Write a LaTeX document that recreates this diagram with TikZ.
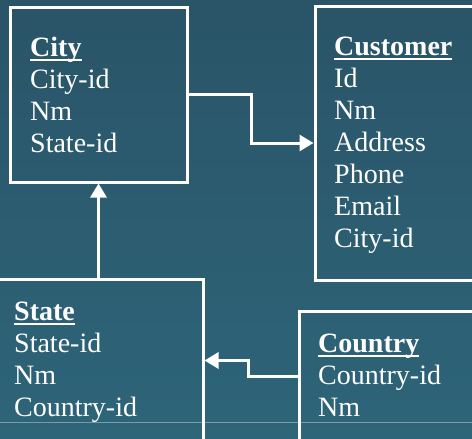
\documentclass[tikz,border=0pt]{standalone}
\usepackage{fontspec}
\setmainfont{Liberation Serif}
\usetikzlibrary{arrows.meta}

\definecolor{bgtop}{HTML}{2A5468}
\definecolor{bgbot}{HTML}{2E6579}

\tikzset{
	table/.style={draw=white, line width=3pt, inner sep=0pt},
	fields/.style={text=white, align=left, inner sep=0pt, anchor=base west,
		font=\fontsize{28}{32}\selectfont},
	link/.style={draw=white, line width=3pt, -{Triangle[length=14pt,width=16pt]}}
}
\newcommand{\tname}[1]{\sbox0{\textbf{#1}}\usebox0\llap{\rule[-4.9pt]{\wd0}{1.8pt}}}

\begin{document}
\begin{tikzpicture}[x=1pt, y=-1pt]
	\useasboundingbox (0,0) rectangle (472,439);
	\shade[top color=bgtop, bottom color=bgbot] (0,0) rectangle (472,439);
	\clip (0,0) rectangle (472,439);
	\draw[white!35!bgbot, line width=0.8pt] (0,422) -- (472,422);

	% tables
	\node[table, minimum width=177pt, minimum height=175pt] (city) at (98.5,94.5) {};
	\node[table, minimum width=165pt, minimum height=274pt] (customer) at (397.5,143) {};
	\node[table, minimum width=213pt, minimum height=163pt] (state) at (96.5,360.5) {};
	\node[table, minimum width=181pt, minimum height=131pt] (country) at (389.5,376.5) {};

	% fields, placed by the baseline of their last line
	\node[fields] (city-f) at (30,152) {\tname{City}\\City-id\\Nm\\State-id};
	\node[fields] (customer-f) at (334,247) {\tname{Customer}\\Id\\Nm\\Address\\Phone\\Email\\City-id};
	\node[fields] (state-f) at (14,416) {\tname{State}\\State-id\\Nm\\Country-id};
	\node[fields] (country-f) at (318,416) {\tname{Country}\\Country-id\\Nm};

	% links
	\draw[link] (city.east) -- ++(63,0) |- (customer.west);
	\draw[link] (state.north -| city.south) -- (city.south);
	\draw[link] (country.west) -- ++(-49,0) |- (state.east);
\end{tikzpicture}
\end{document}
